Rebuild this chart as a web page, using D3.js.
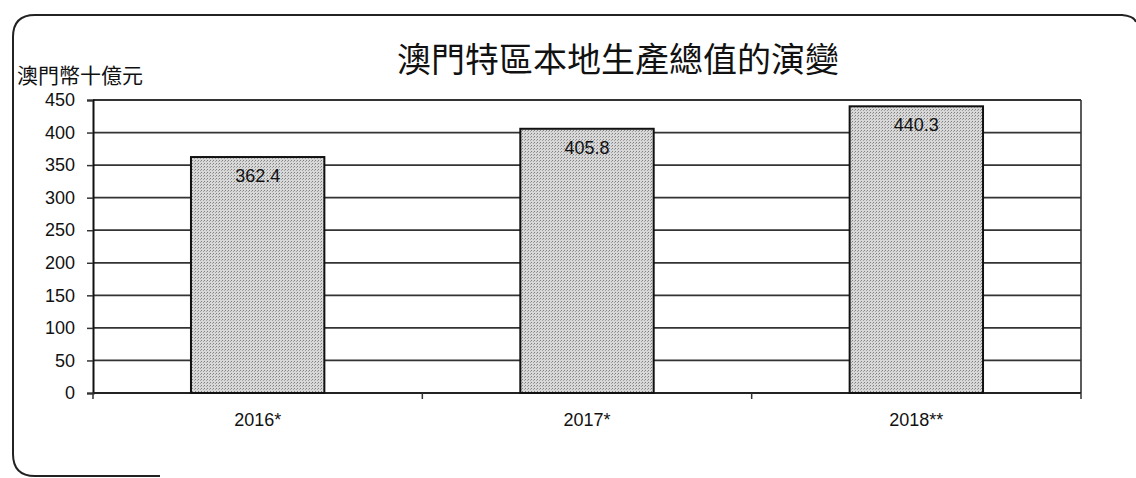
<!DOCTYPE html>
<html>
<head>
<meta charset="utf-8">
<script src="https://cdn.jsdelivr.net/npm/d3@7"></script>
<style>
  body { margin: 0; background: #fff; }
  svg text { font-family: "Liberation Sans", Arial, sans-serif; fill: #111; }
  .cjk { font-family: "Noto Sans CJK TC", "Noto Sans CJK SC", sans-serif; }
</style>
</head>
<body>
<div id="chart"></div>
<script>
// data
var years = ["2016*", "2017*", "2018**"];
var gdp = [362.4, 405.8, 440.3];
var yTicks = [0, 50, 100, 150, 200, 250, 300, 350, 400, 450];
var title = "澳門特區本地生產總值的演變";
var unitLabel = "澳門幣十億元";

var W = 1136, H = 478;
var margin = {top: 100, right: 55, bottom: 85, left: 93},
    width = W - margin.left - margin.right,
    height = H - margin.top - margin.bottom;

var svg = d3.select("#chart")
  .append("svg")
    .attr("width", W)
    .attr("height", H);

// stippled grey fill like the scanned bars
var pat = svg.append("defs").append("pattern")
    .attr("id", "dots")
    .attr("width", 3).attr("height", 3)
    .attr("patternUnits", "userSpaceOnUse");
pat.append("rect").attr("width", 3).attr("height", 3).attr("fill", "#d8d8d8");
pat.append("rect").attr("width", 1).attr("height", 1).attr("fill", "#808080");
pat.append("rect").attr("x", 2).attr("y", 1).attr("width", 1).attr("height", 1).attr("fill", "#a0a0a0");

// outer frame (rounded, partly cut off like the scan)
svg.append("path")
  .attr("d", "M160,476 L35,476 Q13,476 13,454 L13,37 Q13,15 35,15 L1122,15 Q1134,16 1136,22")
  .attr("fill", "none")
  .attr("stroke", "#222")
  .attr("stroke-width", 2);

var g = svg.append("g")
  .attr("transform", "translate(" + margin.left + "," + margin.top + ")");

var x = d3.scaleBand()
  .domain(years)
  .range([0, width])
  .paddingInner(0.595)
  .paddingOuter(0.2975);

var y = d3.scaleLinear()
  .domain([0, 450])
  .range([height, 0]);

// gridlines
g.append("g")
  .selectAll("line")
  .data(yTicks)
  .join("line")
    .attr("x1", 0)
    .attr("x2", width)
    .attr("y1", function(d) { return y(d); })
    .attr("y2", function(d) { return y(d); })
    .attr("stroke", "#333")
    .attr("stroke-width", 1.8);

// right border of plot area
g.append("line")
  .attr("x1", width).attr("x2", width)
  .attr("y1", 0).attr("y2", height)
  .attr("stroke", "#333")
  .attr("stroke-width", 1.6);

// Y axis
var yAxis = g.append("g")
  .call(d3.axisLeft(y).tickValues(yTicks).tickSize(6).tickPadding(12));
yAxis.select(".domain").attr("stroke", "#111").attr("stroke-width", 2);
yAxis.selectAll(".tick line").attr("stroke", "#333").attr("stroke-width", 1.5);
yAxis.selectAll("text").style("font-size", "18px").attr("fill", "#111");

// X axis: line with ticks at category boundaries
var bounds = d3.range(years.length + 1).map(function(i) { return i * width / years.length; });
g.append("line")
  .attr("x1", 0).attr("x2", width)
  .attr("y1", height).attr("y2", height)
  .attr("stroke", "#222")
  .attr("stroke-width", 1.8);
g.append("g")
  .selectAll("line")
  .data(bounds)
  .join("line")
    .attr("x1", function(d) { return d; })
    .attr("x2", function(d) { return d; })
    .attr("y1", height)
    .attr("y2", height + 6)
    .attr("stroke", "#333")
    .attr("stroke-width", 1.5);

g.append("g")
  .selectAll("text")
  .data(years)
  .join("text")
    .attr("x", function(d) { return x(d) + x.bandwidth() / 2; })
    .attr("y", height + 33)
    .attr("text-anchor", "middle")
    .style("font-size", "18px")
    .text(function(d) { return d; });

// bars
g.append("g")
  .selectAll("rect")
  .data(gdp)
  .join("rect")
    .attr("x", function(d, i) { return x(years[i]); })
    .attr("y", function(d) { return y(d); })
    .attr("width", x.bandwidth())
    .attr("height", function(d) { return height - y(d); })
    .attr("fill", "url(#dots)")
    .attr("stroke", "#111")
    .attr("stroke-width", 2);

// value labels inside bar tops
g.append("g")
  .selectAll("text")
  .data(gdp)
  .join("text")
    .attr("x", function(d, i) { return x(years[i]) + x.bandwidth() / 2; })
    .attr("y", function(d) { return y(d) + 25; })
    .attr("text-anchor", "middle")
    .style("font-size", "18px")
    .text(function(d) { return d3.format(".1f")(d); });

// titles
svg.append("text")
  .attr("class", "cjk")
  .attr("x", 618)
  .attr("y", 72)
  .attr("text-anchor", "middle")
  .style("font-size", "34px")
  .text(title);

svg.append("text")
  .attr("class", "cjk")
  .attr("x", 17)
  .attr("y", 83)
  .style("font-size", "21px")
  .text(unitLabel);
</script>
</body>
</html>
